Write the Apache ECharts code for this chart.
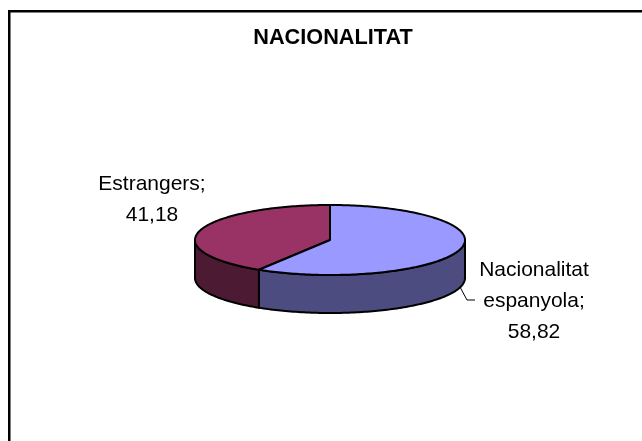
<!DOCTYPE html>
<html>
<head>
<meta charset="utf-8">
<style>
  html, body { margin: 0; padding: 0; background: #fff; }
  #chart { width: 642px; height: 441px; }
</style>
<script src="https://cdn.jsdelivr.net/npm/echarts@6/dist/echarts.min.js"></script>
</head>
<body>
<div id="chart"></div>
<script>
const categories = ['Estrangers', 'Nacionalitat espanyola']
const values = [41.18, 58.82]
const labelLines = [['Estrangers;', '41,18'], ['Nacionalitat', 'espanyola;', '58,82']]
const topColors = ['#993366', '#9999FF']
const sideColors = ['#4C1A33', '#4C4C80']

const FONT = 'Liberation Sans, Arial, sans-serif'
const cx = 330
const cy = 240
const rx = 135
const ry = 35
const depth = 38
const total = values.reduce((a, b) => a + b, 0)

// angle measured counter-clockwise from 12 o'clock, so the first slice goes left
function pointAt (a, dy) {
  return [cx - rx * Math.sin(a), cy - ry * Math.cos(a) + dy]
}

function arc (from, to, dy) {
  const pts = []
  const n = Math.max(2, Math.ceil(Math.abs(to - from) / 0.02))
  for (let i = 0; i <= n; i++) pts.push(pointAt(from + (to - from) * i / n, dy))
  return pts
}

const lineStyle = { stroke: '#000', lineWidth: 2, lineJoin: 'round' }

function renderSlice (params, api) {
  const i = params.dataIndex
  let start = 0
  for (let k = 0; k < i; k++) start += values[k] / total * Math.PI * 2
  const end = start + api.value(0) / total * Math.PI * 2
  const children = []

  // visible wall: only the front half of the ellipse (PI/2 .. 3PI/2)
  const wallFrom = Math.max(start, Math.PI / 2)
  const wallTo = Math.min(end, Math.PI * 1.5)
  if (wallTo > wallFrom) {
    const wall = arc(wallFrom, wallTo, 0).concat(arc(wallTo, wallFrom, depth))
    children.push({
      type: 'polygon',
      shape: { points: wall },
      style: Object.assign({ fill: sideColors[i] }, lineStyle)
    })
  }
  const top = [[cx, cy]].concat(arc(start, end, 0))
  children.push({
    type: 'polygon',
    shape: { points: top },
    style: Object.assign({ fill: topColors[i] }, lineStyle)
  })
  return { type: 'group', children }
}

const option = {
  animation: false,
  graphic: [
    { type: 'polyline', silent: true, shape: { points: [[9.25, 441], [9.25, 11.25], [642, 11.25]] }, style: { stroke: '#000', lineWidth: 2.5, fill: null } },
    { type: 'polyline', silent: true, shape: { points: [[460, 287], [467, 300], [475, 300]] }, style: { stroke: '#000', lineWidth: 1, fill: null } },
    { type: 'text', silent: true, style: { x: 333, y: 27, text: 'NACIONALITAT', fontFamily: FONT, fontSize: 21.7, fontWeight: 'bold', align: 'center', fill: '#000' } },
    { type: 'text', silent: true, style: { x: 152, y: 169, text: labelLines[0].join('\n'), fontFamily: FONT, fontSize: 21, lineHeight: 31, align: 'center', fill: '#000' } },
    { type: 'text', silent: true, style: { x: 534, y: 254.5, text: labelLines[1].join('\n'), fontFamily: FONT, fontSize: 21, lineHeight: 31, align: 'center', fill: '#000' } }
  ],
  series: [{
    type: 'custom',
    coordinateSystem: 'none',
    renderItem: renderSlice,
    data: categories.map((name, i) => ({ name, value: [values[i]] }))
  }]
}

const chart = echarts.init(document.getElementById('chart'), null, { renderer: 'canvas' })
chart.setOption(option)
</script>
</body>
</html>
